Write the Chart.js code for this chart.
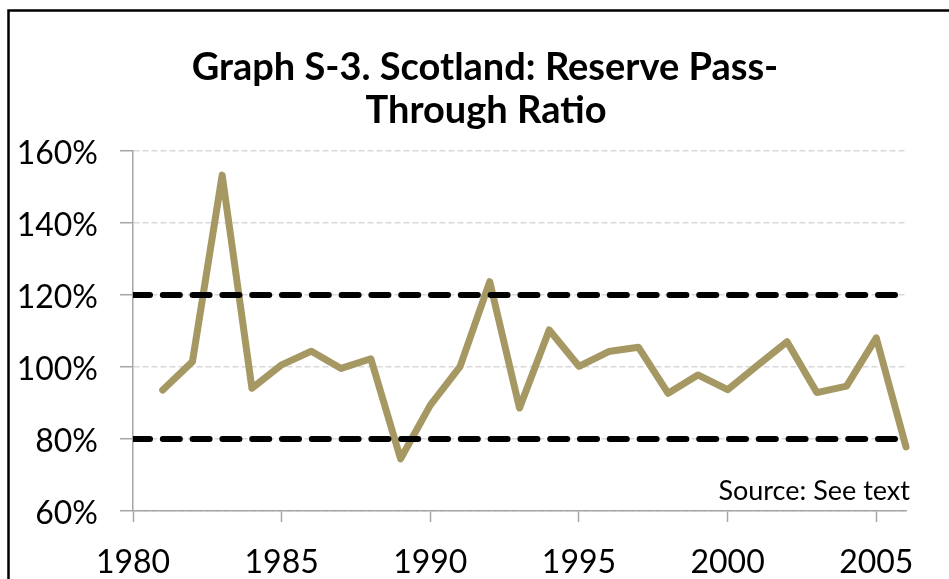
<!DOCTYPE html>
<html>
<head>
<meta charset="utf-8">
<script src="https://cdn.jsdelivr.net/npm/chart.js@4.4.1/dist/chart.umd.min.js"></script>
<style>
  html, body { margin: 0; padding: 0; background: #fff; overflow: hidden; }
  #wrap { position: relative; width: 949px; height: 579px; }
</style>
</head>
<body>
<div id="wrap"><canvas id="c" width="949" height="579"></canvas></div>
<script>
// ---- data ----
const years = [1981,1982,1983,1984,1985,1986,1987,1988,1989,1990,1991,1992,1993,
               1994,1995,1996,1997,1998,1999,2000,2001,2002,2003,2004,2005,2006];
const ratio = [93.6,101.5,153.3,94.1,100.6,104.4,99.6,102.3,74.5,89.4,100.1,123.7,88.6,
               110.3,100.2,104.3,105.5,92.7,97.8,93.7,100.4,107.0,92.9,94.7,108.1,77.8];
const boundYears = [1980, 2006];
const upperBound = [120, 120];
const lowerBound = [80, 80];
const yTickValues = [60, 80, 100, 120, 140, 160];
const xTickValues = [1980, 1985, 1990, 1995, 2000, 2005];
const titleLines = ['Graph S-3. Scotland: Reserve Pass-', 'Through Ratio'];
const sourceNote = 'Source: See text';

const FONT = 'Lato, "Open Sans", "DejaVu Sans", sans-serif';

const toXY = (xs, ys) => xs.map((x, i) => ({x: x, y: ys[i]}));

const decorPlugin = {
  id: 'decor',
  beforeDraw(chart) {
    const ctx = chart.ctx;
    ctx.save();
    ctx.fillStyle = '#fff';
    ctx.fillRect(0, 0, chart.width, chart.height);
    ctx.strokeStyle = '#000';
    ctx.lineWidth = 2.5;
    ctx.beginPath();
    ctx.moveTo(8.5, chart.height + 5);
    ctx.lineTo(8.5, 10.5);
    ctx.lineTo(chart.width + 5, 10.5);
    ctx.stroke();
    ctx.restore();
  },
  afterDraw(chart) {
    const ctx = chart.ctx;
    ctx.save();
    ctx.fillStyle = '#000';
    ctx.textAlign = 'center';
    ctx.textBaseline = 'alphabetic';
    ctx.font = 'bold 38px ' + FONT;
    ctx.fillText(titleLines[0], 485, 80);
    ctx.fillText(titleLines[1], 486, 123);
    ctx.font = '27px ' + FONT;
    ctx.textAlign = 'right';
    ctx.fillText(sourceNote, 910, 500);
    ctx.restore();
  }
};

new Chart(document.getElementById('c'), {
  type: 'line',
  data: {
    datasets: [
      {
        label: 'Upper',
        data: toXY(boundYears, upperBound),
        borderColor: '#000',
        borderWidth: 6,
        borderDash: [17, 12.8],
        borderCapStyle: 'round',
        pointRadius: 0,
        fill: false,
        order: 0
      },
      {
        label: 'Lower',
        data: toXY(boundYears, lowerBound),
        borderColor: '#000',
        borderWidth: 6,
        borderDash: [17, 12.8],
        borderCapStyle: 'round',
        pointRadius: 0,
        fill: false,
        order: 0
      },
      {
        label: 'Ratio',
        data: toXY(years, ratio),
        borderColor: 'rgb(166,152,99)',
        borderWidth: 7,
        borderCapStyle: 'round',
        borderJoinStyle: 'round',
        pointRadius: 0,
        tension: 0,
        fill: false,
        clip: false,
        order: 1
      }
    ]
  },
  options: {
    responsive: false,
    animation: false,
    devicePixelRatio: 1,
    layout: { padding: { top: 151, right: 43, bottom: 0, left: 0 } },
    plugins: { legend: { display: false }, title: { display: false }, tooltip: { enabled: false } },
    scales: {
      x: {
        type: 'linear',
        min: 1980,
        max: 2006,
        afterFit(s) { s.height = 68; },
        afterBuildTicks(s) { s.ticks = xTickValues.map(v => ({value: v})); },
        ticks: {
          color: '#000',
          font: { family: FONT, size: 32 },
          padding: 21,
          maxRotation: 0,
          autoSkip: false,
          callback: v => String(v)
        },
        grid: {
          drawOnChartArea: false,
          drawTicks: true,
          tickLength: 11,
          tickColor: '#a6a6a6',
          tickWidth: 1.5
        },
        border: { color: '#a6a6a6', width: 1.5 }
      },
      y: {
        min: 60,
        max: 160,
        afterFit(s) { s.width = 133; },
        afterBuildTicks(s) { s.ticks = yTickValues.map(v => ({value: v})); },
        ticks: {
          color: '#000',
          font: { family: FONT, size: 32 },
          padding: 22,
          labelOffset: 3,
          callback: v => v + '%'
        },
        grid: {
          color: '#d9d9d9',
          lineWidth: 1.5,
          drawTicks: true,
          tickLength: 13,
          tickColor: '#a6a6a6',
          tickWidth: 1.5,
          tickBorderDash: []
        },
        border: { color: '#a6a6a6', width: 1.5, dash: [6, 3] }
      }
    }
  },
  plugins: [decorPlugin]
});
</script>
</body>
</html>
